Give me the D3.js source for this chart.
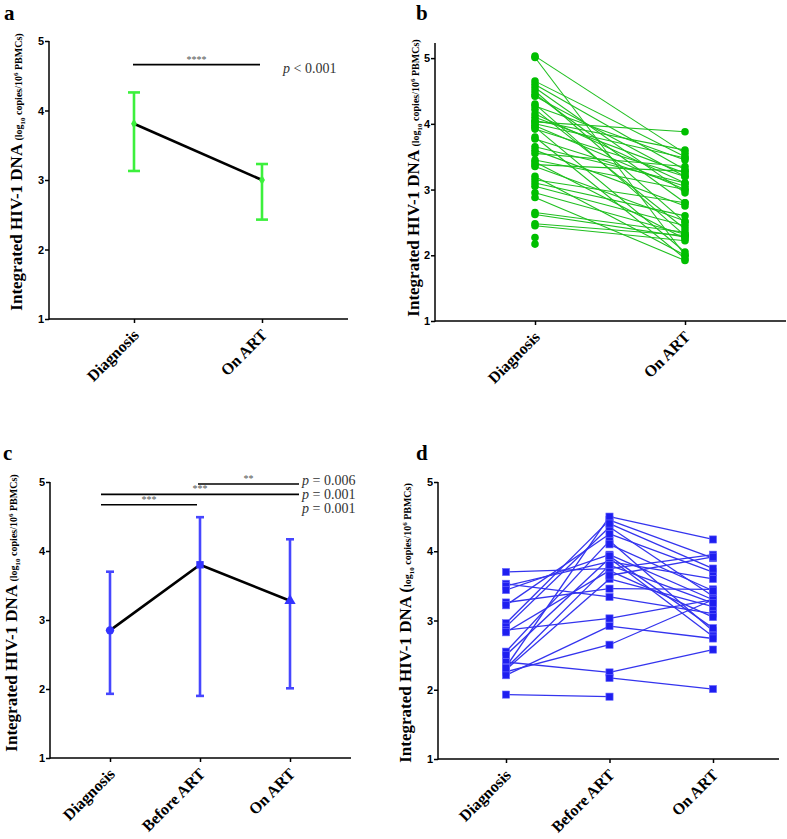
<!DOCTYPE html>
<html><head><meta charset="utf-8">
<script src="https://cdn.jsdelivr.net/npm/d3@7"></script>
<style>body{margin:0;background:#fff}svg{display:block}</style>
</head><body>
<svg id="chart" width="787" height="839"></svg>
<script>
// ---------- data ----------
const yTicks = [1, 2, 3, 4, 5];
const cats2 = ["Diagnosis", "On ART"];
const cats3 = ["Diagnosis", "Before ART", "On ART"];

// panel a: mean with range
const aMean = [3.81, 3.00];
const aLow = [3.13, 2.43];
const aHigh = [4.26, 3.23];
const aStars = "****";
const aP = "< 0.001";

// panel b: paired individual values
const bDiagnosis = [5.03, 5.01, 4.65, 4.60, 4.55, 4.50, 4.45, 4.42, 4.30, 4.27, 4.22, 4.15, 4.10, 4.05, 4.03, 4.00, 3.97, 3.95, 3.92, 3.80, 3.77, 3.65, 3.60, 3.55, 3.45, 3.42, 3.38, 3.35, 3.20, 3.15, 3.10, 3.05, 2.95, 2.88, 2.65, 2.62, 2.48, 2.45, 2.27, 2.17];
const bOnART     = [3.55, 2.00, 3.50, 3.30, 2.95, 2.50, 2.80, 3.20, 2.30, 3.45, 2.40, 3.10, 3.25, 3.60, 3.88, 3.48, 3.00, 2.05, 3.20, 1.95, 3.05, 3.10, 2.75, 3.35, 3.00, 2.25, 3.28, 2.52, 2.00, 2.80, 2.60, 2.45, 2.32, 1.92, 2.35, 2.28, 2.30, 2.22, null, null];

// panel c: mean with range
const cMean = [2.85, 3.80, 3.28];
const cLow = [1.93, 1.90, 2.01];
const cHigh = [3.70, 4.49, 4.17];
const cCompFrom = ["Before ART", "Diagnosis", "Diagnosis"];
const cCompTo = ["On ART", "On ART", "Before ART"];
const cCompStars = ["**", "***", "***"];
const cCompP = ["= 0.006", "= 0.001", "= 0.001"];

// panel d: individual trajectories
const dDiagnosis = [3.70, 3.53, 3.50, 3.44, 3.26, 3.22, 2.96, 2.91, 2.86, 2.83, 2.55, 2.50, 2.40, 2.33, 2.29, 2.26, 2.21, 1.93, null, null, null, null, null, 2.31];
const dBeforeART = [3.75, 3.34, 3.85, 3.95, 3.46, 4.25, 4.45, 4.35, 3.03, 3.72, 4.15, 3.90, 2.25, 4.50, 3.60, 2.65, 2.92, 1.90, 2.17, 4.40, 3.93, 4.10, 3.65, 3.80];
const dOnART     = [3.95, 3.10, 3.60, 3.30, 3.45, 3.70, 3.90, 3.35, 3.30, 3.05, 2.85, 2.77, 2.58, 4.17, 3.20, 3.30, 2.74, null, 2.01, 3.75, 2.89, 3.43, 3.92, 3.25];

// ---------- drawing ----------
const svg = d3.select("#chart");
const serif = "Liberation Serif, Times New Roman, serif";
const sans = "Liberation Sans, Arial, sans-serif";

function panelLetter(x, y, t) {
  svg.append("text").attr("x", x).attr("y", y).attr("font-family", serif)
    .attr("font-weight", "bold").attr("font-size", 21).text(t);
}

function yLabel(x, cy, bigParen) {
  const t = svg.append("text").attr("transform", `translate(${x},${cy}) rotate(-90)`)
    .attr("text-anchor", "middle").attr("font-family", serif).attr("font-weight", "bold").attr("fill", "#000");
  t.append("tspan").attr("font-size", 17).text("Integrated HIV-1 DNA ");
  t.append("tspan").attr("font-size", bigParen ? 17 : 10).text("(");
  t.append("tspan").attr("font-size", 10).text("log");
  t.append("tspan").attr("font-size", 7).attr("dy", 3).text("10");
  t.append("tspan").attr("font-size", 10).attr("dy", -3).text(" copies/10");
  t.append("tspan").attr("font-size", 7).attr("dy", -4).text("6");
  t.append("tspan").attr("font-size", 10).attr("dy", 4).text(" PBMCs)");
}

function axes(x0, x1, y, xs) {
  const ya = svg.append("g").attr("transform", `translate(${x0},0)`)
    .call(d3.axisLeft(y).tickValues(yTicks).tickFormat(d3.format("d")).tickSize(4).tickSizeOuter(0));
  ya.select(".domain").remove();
  const [ymin, ymax] = y.range();
  svg.append("line").attr("x1", x0).attr("x2", x0).attr("y1", ymin + 0.75).attr("y2", ymax)
    .attr("stroke", "#000").attr("stroke-width", 1.5);
  ya.selectAll("line").attr("stroke-width", 1.5);
  ya.selectAll("text").attr("font-family", sans).attr("font-weight", "bold").attr("font-size", 11).attr("x", -5);
  const xa = svg.append("g").attr("transform", `translate(0,${ymin})`)
    .call(d3.axisBottom(xs).tickSize(4).tickFormat(""));
  xa.select(".domain").remove();
  xa.selectAll("line").attr("stroke-width", 1.5);
  svg.append("line").attr("x1", x0).attr("x2", x1).attr("y1", ymin).attr("y2", ymin)
    .attr("stroke", "#000").attr("stroke-width", 1.5);
  xs.domain().forEach(c => {
    svg.append("text").attr("transform", `translate(${xs(c) + 6},${ymin + 17}) rotate(-45)`)
      .attr("text-anchor", "end").attr("font-family", serif).attr("font-weight", "bold")
      .attr("font-size", 16).text(c);
  });
}

function sigBar(x1, x2, yy, stars) {
  svg.append("line").attr("x1", x1).attr("x2", x2).attr("y1", yy).attr("y2", yy)
    .attr("stroke", "#000").attr("stroke-width", 1.6);
  svg.append("text").attr("x", (x1 + x2) / 2).attr("y", yy - 2).attr("text-anchor", "middle")
    .attr("font-family", serif).attr("font-size", 10).attr("fill", "#555").text(stars);
}

function pText(x, yy, val) {
  const t = svg.append("text").attr("x", x).attr("y", yy).attr("font-family", serif)
    .attr("font-size", 14).attr("fill", "#333");
  t.append("tspan").attr("font-style", "italic").text("p");
  t.append("tspan").text(" " + val);
}

// ===== Panel a =====
{
  const y = d3.scaleLinear().domain([1, 5]).range([319, 41]);
  const x = d3.scalePoint().domain(cats2).range([134, 262]);
  panelLetter(4, 20, "a");
  yLabel(22, 172, false);
  axes(49, 348, y, x);
  const green = "#3cf03c";
  cats2.forEach((c, i) => {
    const cx = x(c);
    svg.append("line").attr("x1", cx).attr("x2", cx).attr("y1", y(aLow[i])).attr("y2", y(aHigh[i]))
      .attr("stroke", green).attr("stroke-width", 2.6);
    [aLow[i], aHigh[i]].forEach(v => svg.append("line").attr("x1", cx - 6).attr("x2", cx + 6)
      .attr("y1", y(v)).attr("y2", y(v)).attr("stroke", green).attr("stroke-width", 2.6));
  });
  svg.append("path").datum(aMean)
    .attr("d", d3.line().x((d, i) => x(cats2[i])).y(d => y(d)))
    .attr("fill", "none").attr("stroke", "#000").attr("stroke-width", 2.6);
  svg.selectAll(".amk").data(aMean).enter().append("path")
    .attr("transform", (d, i) => `translate(${x(cats2[i])},${y(d)})`)
    .attr("d", d3.symbol(d3.symbolDiamond, 30)).attr("fill", green);
  const barY = y(4.66);
  sigBar(x(cats2[0]) - 1, x(cats2[1]) - 2, barY, aStars);
  pText(283, barY + 8, aP);
}

// ===== Panel b =====
{
  const y = d3.scaleLinear().domain([1, 5.23]).range([321, 43]);
  const x = d3.scalePoint().domain(cats2).range([535, 685]);
  panelLetter(416, 20, "b");
  yLabel(419, 178, false);
  axes(435, 786, y, x);
  const g = svg.append("g");
  bDiagnosis.forEach((v, i) => {
    if (v != null && bOnART[i] != null)
      g.append("line").attr("x1", x("Diagnosis")).attr("y1", y(v)).attr("x2", x("On ART")).attr("y2", y(bOnART[i]))
        .attr("stroke", "#1fbf1f").attr("stroke-width", 1.1);
  });
  bDiagnosis.forEach(v => { if (v != null) g.append("circle").attr("cx", x("Diagnosis")).attr("cy", y(v)).attr("r", 3.8).attr("fill", "#00bf00"); });
  bOnART.forEach(v => { if (v != null) g.append("circle").attr("cx", x("On ART")).attr("cy", y(v)).attr("r", 3.8).attr("fill", "#00bf00"); });
}

// ===== Panel c =====
{
  const y = d3.scaleLinear().domain([1, 5]).range([758, 482]);
  const x = d3.scalePoint().domain(cats3).range([110, 290]);
  panelLetter(3, 460, "c");
  yLabel(17, 613, false);
  axes(50, 351, y, x);
  const blue = "#4646ff";
  cats3.forEach((c, i) => {
    const cx = x(c);
    svg.append("line").attr("x1", cx).attr("x2", cx).attr("y1", y(cLow[i])).attr("y2", y(cHigh[i]))
      .attr("stroke", blue).attr("stroke-width", 2.6);
    [cLow[i], cHigh[i]].forEach(v => svg.append("line").attr("x1", cx - 4).attr("x2", cx + 4)
      .attr("y1", y(v)).attr("y2", y(v)).attr("stroke", blue).attr("stroke-width", 2.6));
  });
  svg.append("path").datum(cMean)
    .attr("d", d3.line().x((d, i) => x(cats3[i])).y(d => y(d)))
    .attr("fill", "none").attr("stroke", "#000").attr("stroke-width", 2.6);
  const syms = [d3.symbolCircle, d3.symbolSquare, d3.symbolTriangle];
  cMean.forEach((v, i) => svg.append("path").attr("transform", `translate(${x(cats3[i])},${y(v)})`)
    .attr("d", d3.symbol(syms[i], 55)).attr("fill", "#3333ff"));
  const levels = [4.97, 4.82, 4.67];
  const right = 299;
  cCompFrom.forEach((f, i) => {
    const x1 = x(f) - 9 + (f === "Before ART" ? 7 : 0);
    const x2 = cCompTo[i] === "On ART" ? right : x(cCompTo[i]) - 3;
    sigBar(x1, x2, y(levels[i]), cCompStars[i]);
    pText(302, y(levels[0]) + 1 + i * 14, cCompP[i]);
  });
}

// ===== Panel d =====
{
  const y = d3.scaleLinear().domain([1, 5]).range([759, 482]);
  const x = d3.scalePoint().domain(cats3).range([506, 713]);
  panelLetter(416, 460, "d");
  yLabel(411, 623, true);
  axes(438, 779, y, x);
  const g = svg.append("g");
  const series = [dDiagnosis, dBeforeART, dOnART];
  dBeforeART.forEach((_, i) => {
    for (let k = 0; k < 2; k++) {
      const a = series[k][i], b = series[k + 1][i];
      if (a != null && b != null)
        g.append("line").attr("x1", x(cats3[k])).attr("y1", y(a)).attr("x2", x(cats3[k + 1])).attr("y2", y(b))
          .attr("stroke", "#3434ee").attr("stroke-width", 1.3);
    }
  });
  series.forEach((s, k) => s.forEach(v => {
    if (v != null) g.append("rect").attr("x", x(cats3[k]) - 3.6).attr("y", y(v) - 3.6)
      .attr("width", 7.2).attr("height", 7.2).attr("fill", "#1e1ef0").attr("stroke", "#6a6aff").attr("stroke-width", 0.6);
  }));
}
</script>
</body></html>
